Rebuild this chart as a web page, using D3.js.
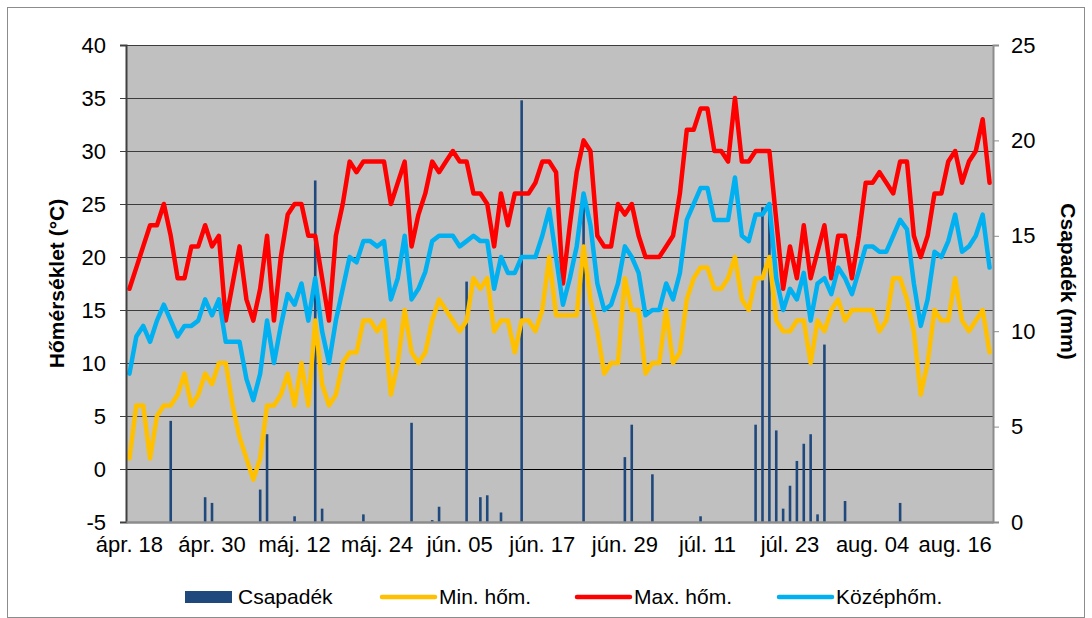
<!DOCTYPE html>
<html>
<head>
<meta charset="utf-8">
<script src="https://cdn.jsdelivr.net/npm/d3@7"></script>
<style>
  body { margin: 0; background: #fff; }
  text { font-family: "Liberation Sans", Arial, sans-serif; fill: #000; }
</style>
</head>
<body>
<script>
    // daily data, ápr. 18 - aug. 21
    var startDay = Date.UTC(2012, 3, 18);
    var endDay = Date.UTC(2012, 7, 22);

    var tickLabels = ["ápr. 18", "ápr. 30", "máj. 12", "máj. 24", "jún. 05", "jún. 17",
                      "jún. 29", "júl. 11", "júl. 23", "aug. 04", "aug. 16"];

    var precip = [0,0,0,0,0,0,5.3,0,0,0,
                  0,1.3,1.0,0,0,0,0,0,0,1.7,
                  4.6,0,0,0,0.3,0,0,17.9,0.7,0,
                  0,0,0,0,0.4,0,0,0,0,0,
                  0,5.2,0,0,0.1,0.8,0,0,0,12.6,
                  0,1.3,1.4,0,0.5,0,0,22.1,0,0,
                  0,0,0,0,0,0,17.2,0,0,0,
                  0,0,3.4,5.1,0,0,2.5,0,0,0,
                  0,0,0,0.3,0,0,0,0,0,0,
                  0,5.1,16.5,16.6,4.8,0.7,1.9,3.2,4.1,4.6,
                  0.4,9.3,0,0,1.1,0,0,0,0,0,
                  0,0,1.0,0,0,0,0,0,0,0,
                  0,0,0,0,0,0];

    var minTemp = [1,6,6,1,5,6,6,7,9,6,
                   7,9,8,10,10,6,3,1,-1,1,
                   6,6,7,9,6,10,6,14,8,6,
                   7,10,11,11,14,14,13,14,7,10,
                   15,11,10,11,14,16,15,14,13,14,
                   18,17,18,13,14,14,11,14,14,13,
                   15,20,14.5,14.5,14.5,14.5,21,16,13,9,
                   10,10,18,15,15,9,10,10,15,10,
                   11,16,18,19,19,17,17,18,20,16,
                   15,18,18,20,14,13,13,14,14,10,
                   14,13,15,16,14,15,15,15,15,13,
                   14,18,18,16,13,7,10,15,14,14,
                   18,14,13,14,15,11];

    var maxTemp = [17,19,21,23,23,25,22,18,18,21,
                   21,23,21,22,14,17.5,21,16,14,17,
                   22,14,20,24,25,25,22,22,18,14,
                   22,25,29,28,29,29,29,29,25,27,
                   29,21,24,26,29,28,29,30,29,29,
                   26,26,25,21,26,23,26,26,26,27,
                   29,29,28,17.5,23,28,31,30,22,21,
                   21,25,24,25,22,20,20,20,21,22,
                   26,32,32,34,34,30,30,29,35,29,
                   29,30,30,30,23.5,17,21,18,23,18,
                   20.5,23,18,22,22,18,22,27,27,28,
                   27,26,29,29,22,20,22,26,26,29,
                   30,27,29,30,33,27];

    var meanTemp = [9,12.5,13.5,12,14,15.5,14,12.5,13.5,13.5,
                    14,16,14.5,16,12,12,12,8.5,6.5,9,
                    14,10,13.5,16.5,15.5,17.5,14,18,13,10,
                    14,17,20,19.5,21.5,21.5,21,21.5,16,18,
                    22,16,17,18.6,21.5,22,22,22,21,21.5,
                    22,21.5,21.5,17,20,18.5,18.5,20,20,20,
                    22,24.5,20,15.5,18,21,26,23,17.5,15,
                    15.5,17.5,21,20,18.5,14.5,15,15,17.5,16,
                    18.5,23.5,25,26.5,26.5,23.5,23.5,23.5,27.5,22,
                    21.5,24,24,25,18,15,17,16,18.5,14,
                    17.5,18,16.5,19,18,16.5,18.7,21,21,20.5,
                    20.5,22,23.5,22.6,17.5,13.5,16,20.5,20,21.5,
                    24,20.5,21,22,24,19];

    var leftTicks = [-5, 0, 5, 10, 15, 20, 25, 30, 35, 40];
    var rightTicks = [0, 5, 10, 15, 20, 25];

    var days = d3.utcDay.range(new Date(startDay), new Date(endDay));

    var margin = {top: 45, right: 99, bottom: 96, left: 126};
    var W = 1092, H = 618;
    var width = W - margin.left - margin.right;
    var height = H - margin.top - margin.bottom;

    var svg = d3.select("body").append("svg")
        .attr("width", W)
        .attr("height", H);

    // outer chart border
    svg.append("rect")
        .attr("x", 7.5).attr("y", 7.5)
        .attr("width", W - 15).attr("height", H - 8)
        .attr("fill", "#fff")
        .attr("stroke", "#8c8c8c");

    var g = svg.append("g")
        .attr("transform", "translate(" + margin.left + "," + margin.top + ")");

    var x = d3.scaleBand().domain(days).range([0, width]).paddingInner(0).paddingOuter(0);
    var y = d3.scaleLinear().domain([-5, 40]).range([height, 0]);
    var y2 = d3.scaleLinear().domain([0, 25]).range([height, 0]);
    var cx = function(i) { return x(days[i]) + x.bandwidth() / 2; };

    g.append("rect")
        .attr("width", width).attr("height", height)
        .attr("fill", "#c0c0c0");

    // gridlines
    g.selectAll(".grid")
        .data(leftTicks.filter(function(d) { return d > -5; }))
        .enter().append("line")
        .attr("class", "grid")
        .attr("x1", 0).attr("x2", width)
        .attr("y1", function(d) { return Math.round(y(d)) + 0.5; })
        .attr("y2", function(d) { return Math.round(y(d)) + 0.5; })
        .attr("stroke", function(d) { return d === 0 ? "#000" : "#3c3c3c"; })
        .attr("stroke-width", 1);

    // precipitation columns
    g.selectAll(".bar")
        .data(precip.map(function(v, i) { return {i: i, v: v}; }).filter(function(d) { return d.v > 0; }))
        .enter().append("rect")
        .attr("class", "bar")
        .attr("x", function(d) { return cx(d.i) - 1.3; })
        .attr("y", function(d) { return y2(d.v); })
        .attr("width", 2.6)
        .attr("height", function(d) { return height - y2(d.v); })
        .attr("fill", "#1f497d");

    var line = d3.line()
        .x(function(d, i) { return cx(i); })
        .y(function(d) { return y(d); });

    var series = [
        {data: minTemp, color: "#ffc000"},
        {data: maxTemp, color: "#ff0000"},
        {data: meanTemp, color: "#00b0f0"}
    ];

    series.forEach(function(s) {
        g.append("path")
            .datum(s.data)
            .attr("fill", "none")
            .attr("stroke", s.color)
            .attr("stroke-width", 4.5)
            .attr("stroke-linejoin", "round")
            .attr("stroke-linecap", "round")
            .attr("d", line);
    });

    // left axis
    var yAxis = g.append("g")
        .call(d3.axisLeft(y).tickValues(leftTicks).tickSize(6).tickPadding(14)
            .tickFormat(function(d) { return String(d); }));
    yAxis.select(".domain").attr("stroke", "#404040").attr("stroke-width", 2);
    yAxis.selectAll(".tick line").attr("stroke", "#404040");
    yAxis.selectAll("text").style("font-size", "22px");

    // right axis
    var y2Axis = g.append("g")
        .attr("transform", "translate(" + width + ",0)")
        .call(d3.axisRight(y2).tickValues(rightTicks).tickSize(6).tickPadding(12));
    y2Axis.select(".domain").attr("stroke", "#8c8c8c").attr("stroke-width", 2);
    y2Axis.selectAll(".tick line").attr("stroke", "#8c8c8c");
    y2Axis.selectAll("text").style("font-size", "22px");

    // bottom axis
    var xAxis = g.append("g")
        .attr("transform", "translate(0," + height + ")")
        .call(d3.axisBottom(x)
            .tickValues(days.filter(function(d, i) { return i % 12 === 0; }))
            .tickFormat(function(d, i) { return tickLabels[i]; })
            .tickSize(0).tickPadding(14));
    xAxis.select(".domain").attr("stroke", "#8c8c8c").attr("stroke-width", 2.5);
    xAxis.selectAll("text").style("font-size", "22px");

    // axis titles
    svg.append("text")
        .attr("transform", "translate(57," + (margin.top + height / 2) + ") rotate(-90)")
        .attr("text-anchor", "middle")
        .attr("dy", "0.35em")
        .style("font-size", "21px")
        .style("font-weight", "bold")
        .text("Hőmérséklet (°C)");

    svg.append("text")
        .attr("transform", "translate(1068," + (margin.top + height / 2 - 2) + ") rotate(90)")
        .attr("text-anchor", "middle")
        .attr("dy", "0.35em")
        .style("font-size", "21px")
        .style("font-weight", "bold")
        .text("Csapadék (mm)");

    // legend
    var ly = 597;
    var legend = svg.append("g");
    legend.append("rect")
        .attr("x", 185).attr("y", ly - 6)
        .attr("width", 47).attr("height", 12)
        .attr("fill", "#1f497d");
    legend.append("text").attr("x", 238).attr("y", ly).attr("dy", "0.35em")
        .style("font-size", "21px").text("Csapadék");

    var legendLines = [
        {x: 382, color: "#ffc000", label: "Min. hőm."},
        {x: 577, color: "#ff0000", label: "Max. hőm."},
        {x: 779, color: "#00b0f0", label: "Középhőm."}
    ];
    legendLines.forEach(function(l) {
        legend.append("line")
            .attr("x1", l.x).attr("x2", l.x + 53)
            .attr("y1", ly).attr("y2", ly)
            .attr("stroke", l.color)
            .attr("stroke-width", 4.5)
            .attr("stroke-linecap", "round");
        legend.append("text").attr("x", l.x + 57).attr("y", ly).attr("dy", "0.35em")
            .style("font-size", "21px").text(l.label);
    });
</script>
</body>
</html>
